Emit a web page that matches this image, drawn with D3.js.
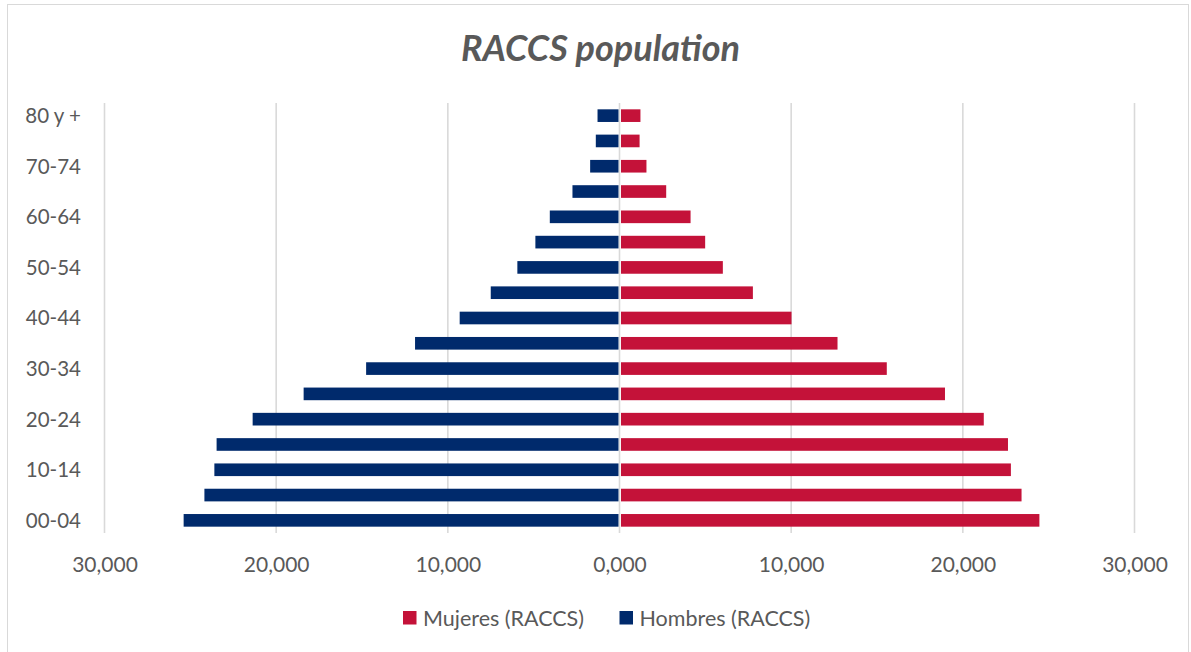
<!DOCTYPE html>
<html>
<head>
<meta charset="utf-8">
<script src="https://cdn.jsdelivr.net/npm/d3@7"></script>
<style>
  html, body { margin: 0; padding: 0; background: #ffffff; }
  svg { display: block; }
  text { font-family: Lato, "Open Sans", "Noto Sans", sans-serif; fill: #595959; }
</style>
</head>
<body>
<svg id="chart" width="1191" height="652"></svg>
<script>
// Age groups, youngest first
const ageGroups = ["00-04", "05-09", "10-14", "15-19", "20-24", "25-29", "30-34", "35-39",
                   "40-44", "45-49", "50-54", "55-59", "60-64", "65-69", "70-74", "75-79", "80 y +"];
// Population by age group
const mujeres = [24460, 23420, 22800, 22630, 21220, 18960, 15570, 12700,
                 10020, 7770, 6020, 4990, 4140, 2720, 1570, 1170, 1220];
const hombres = [25390, 24180, 23600, 23470, 21370, 18400, 14760, 11910,
                 9310, 7500, 5950, 4900, 4060, 2740, 1710, 1380, 1280];
// Axis ticks
const xTickValues = [-30000, -20000, -10000, 0, 10000, 20000, 30000];
const xTickLabels = ["30,000", "20,000", "10,000", "0,000", "10,000", "20,000", "30,000"];
const yTickLabels = ["00-04", "10-14", "20-24", "30-34", "40-44", "50-54", "60-64", "70-74", "80 y +"];
const seriesNames = ["Mujeres (RACCS)", "Hombres (RACCS)"];

const colors = { mujeres: "#c41239", hombres: "#002a6c" };

const svg = d3.select("#chart");

// outer frame
svg.append("rect")
  .attr("x", 7.5).attr("y", 4.5)
  .attr("width", 1181).attr("height", 660)
  .attr("fill", "none").attr("stroke", "#d9d9d9").attr("stroke-width", 1);

const x = d3.scaleLinear().domain([-30000, 30000]).range([104.5, 1134.5]);
const y = d3.scaleBand()
  .domain(ageGroups.slice().reverse())
  .range([103, 533])
  .paddingInner(0.5)
  .paddingOuter(0.25);

// vertical gridlines
svg.append("g")
  .selectAll("line")
  .data(xTickValues)
  .join("line")
  .attr("x1", d => x(d)).attr("x2", d => x(d))
  .attr("y1", 103).attr("y2", 533)
  .attr("stroke", "#d9d9d9").attr("stroke-width", 1.6);

const rows = ageGroups.map((g, i) => ({ group: g, m: mujeres[i], h: hombres[i] }));

// women to the right
svg.append("g")
  .selectAll("rect")
  .data(rows)
  .join("rect")
  .attr("x", x(0) + 1.5)
  .attr("y", d => y(d.group))
  .attr("width", d => x(d.m) - x(0) - 1.5)
  .attr("height", y.bandwidth())
  .attr("fill", colors.mujeres);

// men to the left
svg.append("g")
  .selectAll("rect")
  .data(rows)
  .join("rect")
  .attr("x", d => x(-d.h))
  .attr("y", d => y(d.group))
  .attr("width", d => x(0) - 1 - x(-d.h))
  .attr("height", y.bandwidth())
  .attr("fill", colors.hombres);

// x-axis labels
const xAxis = d3.axisBottom(x)
  .tickValues(xTickValues)
  .tickFormat((d, i) => xTickLabels[i])
  .tickSize(0)
  .tickPadding(0);
const gx = svg.append("g").attr("transform", "translate(0,557)").call(xAxis);
gx.select(".domain").remove();
gx.selectAll("text")
  .attr("dy", "0.72em")
  .style("font-size", "21px")
  .style("font-family", "Lato, sans-serif")
  .attr("fill", "#595959");

// y-axis labels (every other age group)
const yAxis = d3.axisLeft(y)
  .tickValues(yTickLabels)
  .tickSize(0)
  .tickPadding(0);
const gy = svg.append("g").attr("transform", "translate(81,0)").call(yAxis);
gy.select(".domain").remove();
gy.selectAll("text")
  .attr("dy", "0.36em")
  .style("font-size", "20.5px")
  .style("font-family", "Lato, sans-serif")
  .attr("fill", "#595959");

// title
svg.append("text")
  .attr("x", 600.5).attr("y", 61)
  .attr("text-anchor", "middle")
  .style("font-size", "36px")
  .style("font-weight", "bold")
  .style("font-style", "italic")
  .text("RACCS population");

// legend
const legendItems = [
  { name: seriesNames[0], color: colors.mujeres, x: 403 },
  { name: seriesNames[1], color: colors.hombres, x: 619.5 }
];
const lg = svg.append("g").selectAll("g").data(legendItems).join("g")
  .attr("transform", d => `translate(${d.x},611)`);
lg.append("rect").attr("width", 13.5).attr("height", 13.5).attr("fill", d => d.color);
lg.append("text")
  .attr("x", 20).attr("y", 7)
  .attr("dy", "0.36em")
  .style("font-size", "21.5px")
  .text(d => d.name);
</script>
</body>
</html>
